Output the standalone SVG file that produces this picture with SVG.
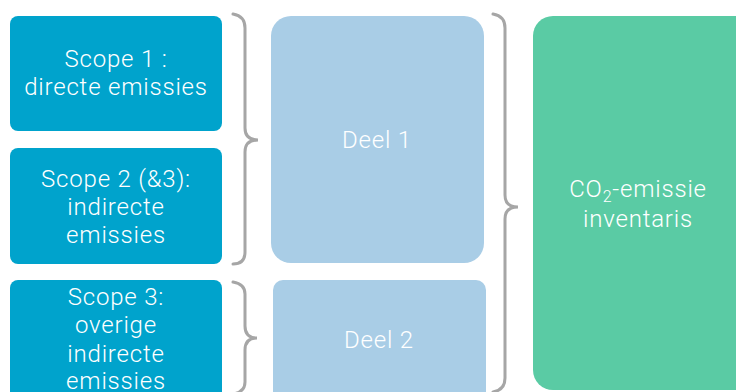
<svg xmlns="http://www.w3.org/2000/svg" width="736" height="392" viewBox="0 0 736 392">
<style>
.t{font-family:Roboto,"Liberation Sans",sans-serif;font-size:24px;fill:#ffffff;text-anchor:middle;font-weight:300;letter-spacing:0.8px}
.s{fill:#00A3CC}
.d{fill:#A9CDE6}
.g{fill:#5ACBA4}
.br{fill:none;stroke:#A6A6A6;stroke-width:3;stroke-linecap:round}
</style>
<rect width="736" height="392" fill="#ffffff"/>
<g id="scope1"><rect class="s" x="10" y="16" width="212" height="115" rx="8"/><text class="t" x="116" y="67">Scope 1 :</text><text class="t" x="116" y="95">directe emissies</text></g>
<g id="scope2"><rect class="s" x="10" y="148" width="212" height="116" rx="8"/><text class="t" x="116" y="187">Scope 2 (&amp;3):</text><text class="t" x="116" y="215">indirecte</text><text class="t" x="116" y="243">emissies</text></g>
<g id="scope3"><rect class="s" x="10" y="280" width="212" height="130" rx="8"/><text class="t" x="116" y="305">Scope 3:</text><text class="t" x="116" y="333">overige</text><text class="t" x="116" y="362">indirecte</text><text class="t" x="116" y="389">emissies</text></g>
<g id="deel1"><rect class="d" x="271" y="16" width="213" height="247" rx="20"/><text class="t" x="377" y="148">Deel 1</text></g>
<g id="deel2"><rect class="d" x="273" y="280" width="213" height="130" rx="10"/><text class="t" x="379" y="348">Deel 2</text></g>
<g id="co2"><rect class="g" x="533" y="16" width="230" height="374" rx="20"/><text class="t" x="638" y="197">CO<tspan font-size="16" dy="5">2</tspan><tspan dy="-5">-emissie</tspan></text><text class="t" x="638" y="227">inventaris</text></g>
<g id="connectors">
<path class="br" d="M233,14 Q245,16 245,28 L245,128 Q245,140 258,140 Q245,140 245,152 L245,252 Q245,264 233,264"/>
<path class="br" d="M233,282 Q245,284 245,294 L245,326 Q245,338 257,338 Q245,338 245,350 L245,382 Q245,392 233,394"/>
<path class="br" d="M493,14 Q505,16 505,28 L505,195 Q505,207 518,207 Q505,207 505,219 L505,378 Q505,390 493,392"/>
</g>
</svg>
